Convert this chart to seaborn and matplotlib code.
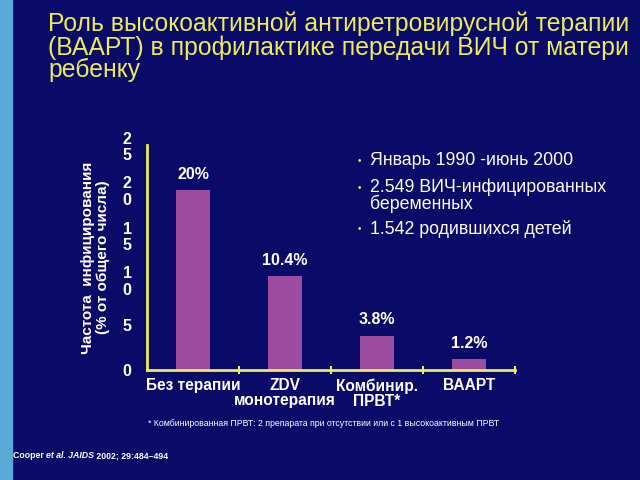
import matplotlib
matplotlib.use("Agg")
import matplotlib.pyplot as plt
import seaborn as sns
import pandas as pd

categories = ["Без терапии", "ZDV\nмонотерапия", "Комбинир.\nПРВТ*", "ВААРТ"]
values = [20.0, 10.4, 3.8, 1.2]
value_labels = ["20%", "10.4%", "3.8%", "1.2%"]
ytick_values = [0, 5, 10, 15, 20, 25]
ytick_labels = ["0", "5", "1\n0", "1\n5", "2\n0", "2\n5"]
bullets = ["Январь 1990 -июнь 2000", "2.549 ВИЧ-инфицированных\nбеременных", "1.542 родившихся детей"]
title = "Роль высокоактивной антиретровирусной терапии\n(ВААРТ) в профилактике передачи ВИЧ от матери\nребенку"
ylabel = "Частота  инфицирования\n(% от общего числа)"
footnote = "* Комбинированная ПРВТ: 2 препарата при отсутствии или с 1 высокоактивным ПРВТ"

BG = "#0a0a68"
BAR = "#9c4ca0"
YEL = "#ecec5a"
WHITE = "white"

sns.set_style("dark")
plt.rcParams["font.family"] = ["Liberation Sans", "DejaVu Sans"]

fig = plt.figure(figsize=(6.4, 4.8), dpi=100)
fig.patch.set_facecolor(BG)
# light blue strip on the left edge
fig.add_artist(plt.Rectangle((0, 0), 12/640, 1, transform=fig.transFigure, color="#5aaad8", zorder=0))

ax = fig.add_axes([147/640, 110/480, 368/640, 225/480])
ax.set_facecolor(BG)
df = pd.DataFrame({"cat": categories, "val": values})
sns.barplot(data=df, x="cat", y="val", color=BAR, saturation=1, width=0.38, ax=ax,
            edgecolor=BAR, linewidth=0)
ax.set_xlim(-0.5, 3.5)
ax.set_ylim(0, 25)

for s in ["top", "right"]:
    ax.spines[s].set_visible(False)
for s in ["left", "bottom"]:
    ax.spines[s].set_color(YEL)
    ax.spines[s].set_linewidth(2)

ax.bar_label(ax.containers[0], labels=value_labels, padding=6, color=WHITE,
             fontsize=11.5, fontweight="bold")

ax.set_yticks(ytick_values)
ax.set_yticklabels(ytick_labels, fontsize=11.5, fontweight="bold", color=WHITE, linespacing=1.15)
ax.tick_params(axis="y", length=0, pad=11)
ax.set_xticks(range(len(categories)))
ax.set_xticklabels(categories, fontsize=11.2, fontweight="bold", color=WHITE, linespacing=1.0)
ax.tick_params(axis="x", which="major", length=0, pad=6)
ax.set_xticks([0.5, 1.5, 2.5, 3.5], minor=True)
ax.tick_params(axis="x", which="minor", length=6, direction="inout", color=YEL, width=1.5,
               bottom=True)
ax.grid(False)
ax.set_xlabel("")
ax.set_ylabel(ylabel, fontsize=11, fontweight="bold", color=WHITE, labelpad=9, linespacing=1.1)

fig.text(48/640, 1 - 12/480, title, ha="left", va="top", fontsize=17.8, color=YEL, linespacing=0.93)

by = [160, 187, 228]
for yb, txt in zip(by, bullets):
    fig.text(358/640, 1 - (yb + 1)/480, "•", ha="left", va="center", fontsize=7, color=YEL)
    fig.text(370/640, 1 - (yb - 8)/480, txt, ha="left", va="top", fontsize=12.8, color=WHITE, linespacing=0.85)

fig.text(148/640, 1 - 423/480, footnote, ha="left", va="center", fontsize=6.3, color=WHITE)

t1 = fig.text(13/640, 1 - 456/480, "Cooper ", ha="left", va="center", fontsize=6.3, fontweight="bold", color=WHITE)
t2 = ax.annotate("et al. JAIDS", xy=(1, 0), xycoords=t1, ha="left", va="bottom", fontsize=6.3,
                 fontweight="bold", fontstyle="italic", color=WHITE, annotation_clip=False)
ax.annotate(" 2002; 29:484–494", xy=(1, 0), xycoords=t2, ha="left", va="bottom", fontsize=6.3,
            fontweight="bold", color=WHITE, annotation_clip=False)

fig.savefig("out.png", dpi=100, facecolor=BG)
